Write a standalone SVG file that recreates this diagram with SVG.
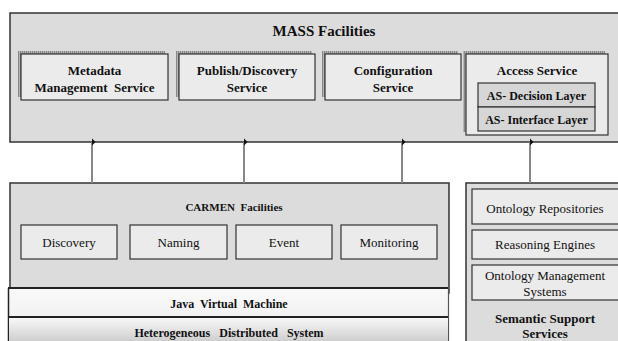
<svg xmlns="http://www.w3.org/2000/svg" width="618" height="341" viewBox="0 0 618 341" font-family="'Liberation Serif', 'DejaVu Serif', serif">
  <defs>
    <pattern id="hatch" width="2" height="2" patternUnits="userSpaceOnUse">
      <rect width="2" height="2" fill="#b4b4b4"/>
      <rect width="1" height="2" fill="#888"/>
    </pattern>
    <linearGradient id="gJava" x1="0" y1="0" x2="0" y2="1">
      <stop offset="0" stop-color="#fafafa"/>
      <stop offset="1" stop-color="#f2f2f2"/>
    </linearGradient>
    <linearGradient id="gHet" x1="0" y1="0" x2="0" y2="1">
      <stop offset="0" stop-color="#f8f8f8"/>
      <stop offset="1" stop-color="#cfcfcf"/>
    </linearGradient>
    <marker id="tee" markerWidth="8" markerHeight="5" refX="4" refY="0.5" orient="auto-start-reverse" markerUnits="userSpaceOnUse" viewBox="0 0 8 5">
      <path d="M0,0 L8,0 L4,4 Z" fill="#111"/>
    </marker>
  </defs>
  <style>
    .outer { fill: #dcdcdc; stroke: #333; stroke-width: 1.5; }
    .inner { fill: #ebebeb; stroke: #333; stroke-width: 1.2; }
    .layer { fill: #d6d6d6; stroke: #333; stroke-width: 1.2; }
    .shadow { fill: url(#hatch); }
    .band { stroke: #222; stroke-width: 2; }
    text { font-family: 'Liberation Serif', 'DejaVu Serif', serif; fill: #111; text-anchor: middle; }
    .b { font-weight: bold; }
    .t15 { font-size: 15px; }
    .t13 { font-size: 13px; }
    .t12 { font-size: 12px; }
    .t11 { font-size: 11px; }
    .conn { stroke: #888; stroke-width: 2; fill: none; }
  </style>

  <rect width="618" height="341" fill="#fff"/>

  <!-- MASS Facilities -->
  <g id="mass">
    <rect class="outer" x="10" y="13" width="620" height="129"/>
    <text class="b t15" x="324" y="36">MASS Facilities</text>
  </g>

  <g id="metadata">
    <rect class="shadow" x="18" y="51" width="147" height="46"/>
    <rect class="inner" x="21" y="54" width="147" height="46"/>
    <text class="b t13" x="94.5" y="75">Metadata</text>
    <text class="b t13" x="94.5" y="92" xml:space="preserve">Management  Service</text>
  </g>

  <g id="publish">
    <rect class="shadow" x="176" y="51" width="136" height="46"/>
    <rect class="inner" x="179" y="54" width="136" height="46"/>
    <text class="b t13" x="247" y="75">Publish/Discovery</text>
    <text class="b t13" x="247" y="92">Service</text>
  </g>

  <g id="configuration">
    <rect class="shadow" x="322" y="51" width="136" height="46"/>
    <rect class="inner" x="325" y="54" width="136" height="46"/>
    <text class="b t13" x="393" y="75">Configuration</text>
    <text class="b t13" x="393" y="92">Service</text>
  </g>

  <g id="access">
    <rect class="shadow" x="463" y="51" width="142" height="81"/>
    <rect class="inner" x="466" y="54" width="142" height="81"/>
    <text class="b t13" x="537" y="75">Access Service</text>
    <rect class="layer" x="478" y="83" width="117" height="24"/>
    <text class="b t12" x="536.5" y="100">AS- Decision Layer</text>
    <rect class="layer" x="478" y="107" width="117" height="24"/>
    <text class="b t12" x="536.5" y="124">AS- Interface Layer</text>
  </g>

  <!-- CARMEN Facilities and platform layers -->
  <g id="carmen">
    <rect class="outer" x="10" y="183" width="439" height="110"/>
    <text class="b t11" x="234" y="211" xml:space="preserve">CARMEN  Facilities</text>
  </g>

  <g id="discovery">
    <rect class="inner" x="21" y="225" width="96" height="34"/>
    <text class="t13" x="69" y="247">Discovery</text>
  </g>
  <g id="naming">
    <rect class="inner" x="130" y="225" width="97" height="34"/>
    <text class="t13" x="178.5" y="247">Naming</text>
  </g>
  <g id="event">
    <rect class="inner" x="236" y="225" width="96" height="34"/>
    <text class="t13" x="284" y="247">Event</text>
  </g>
  <g id="monitoring">
    <rect class="inner" x="341" y="225" width="96" height="34"/>
    <text class="t13" x="389" y="247">Monitoring</text>
  </g>

  <g id="jvm">
    <rect x="8" y="288" width="440" height="29" fill="url(#gJava)"/>
    <line class="band" x1="8" y1="288" x2="448" y2="288"/>
    <line class="band" x1="8" y1="317" x2="448" y2="317"/>
    <line x1="8.5" y1="288" x2="8.5" y2="341" stroke="#222" stroke-width="1.5"/>
    <line x1="448.5" y1="288" x2="448.5" y2="341" stroke="#555" stroke-width="1.2"/>
    <text class="b t12" x="229" y="308" xml:space="preserve">Java  Virtual  Machine</text>
  </g>

  <g id="heterogeneous">
    <rect x="9" y="318" width="439" height="23" fill="url(#gHet)"/>
    <text class="b t12" x="229" y="337" xml:space="preserve">Heterogeneous   Distributed   System</text>
  </g>

  <!-- Semantic Support Services -->
  <g id="semantic">
    <rect class="outer" x="466" y="183" width="160" height="170"/>
    <text class="b t13" x="545" y="323">Semantic Support</text>
    <text class="b t13" x="545" y="338">Services</text>
  </g>
  <g id="ontology-repositories">
    <rect class="inner" x="472" y="189" width="150" height="35"/>
    <text class="t13" x="545" y="213">Ontology Repositories</text>
  </g>
  <g id="reasoning-engines">
    <rect class="inner" x="472" y="230" width="150" height="29"/>
    <text class="t13" x="545" y="249">Reasoning Engines</text>
  </g>
  <g id="ontology-management">
    <rect class="inner" x="472" y="265" width="150" height="35"/>
    <text class="t13" x="545" y="280">Ontology Management</text>
    <text class="t13" x="545" y="296">Systems</text>
  </g>

  <!-- Connectors between the MASS layer and the layers below -->
  <g id="connectors">
    <line class="conn" x1="92" y1="142" x2="92" y2="183" marker-start="url(#tee)"/>
    <line class="conn" x1="244" y1="142" x2="244" y2="183" marker-start="url(#tee)"/>
    <line class="conn" x1="402" y1="142" x2="402" y2="183" marker-start="url(#tee)"/>
    <line class="conn" x1="530" y1="142" x2="530" y2="183" marker-start="url(#tee)"/>
  </g>
</svg>
